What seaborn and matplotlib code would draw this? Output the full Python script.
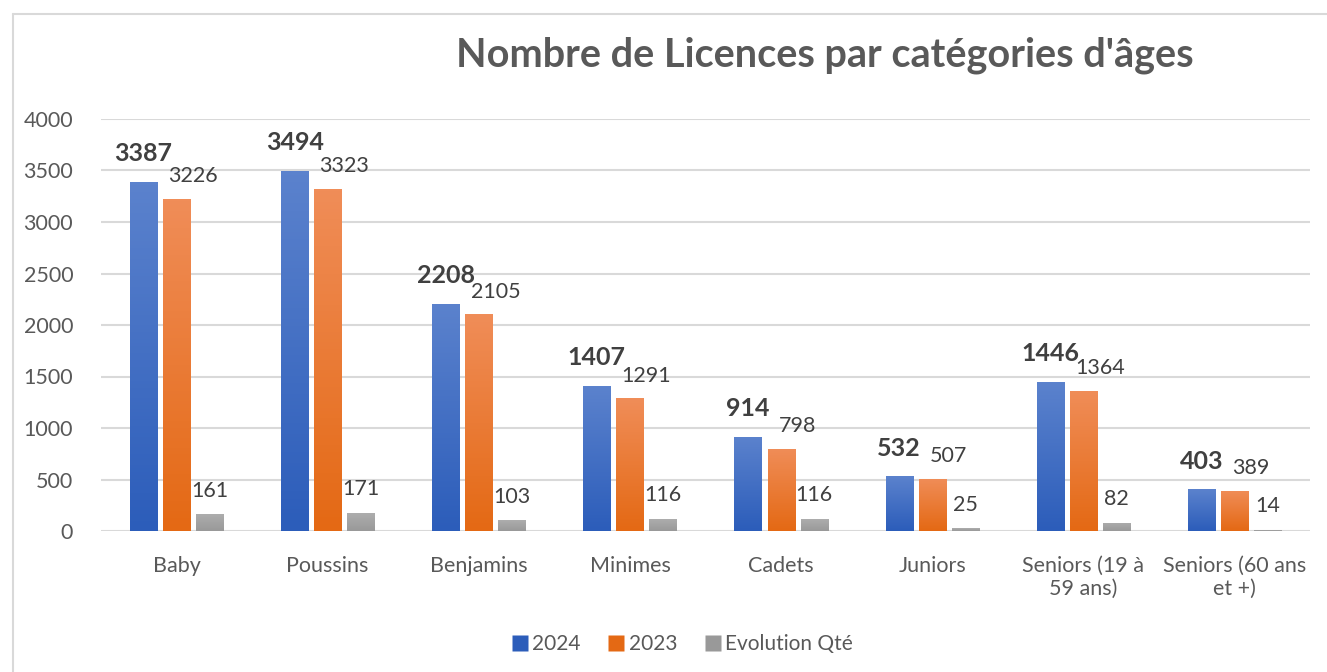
import pandas as pd
import numpy as np
import matplotlib.pyplot as plt
from matplotlib.colors import LinearSegmentedColormap
from matplotlib.lines import Line2D
import seaborn as sns

# Data
categories = ["Baby", "Poussins", "Benjamins", "Minimes", "Cadets", "Juniors",
              "Seniors (19 à\n59 ans)", "Seniors (60 ans\net +)"]
licences_2024 = [3387, 3494, 2208, 1407, 914, 532, 1446, 403]
licences_2023 = [3226, 3323, 2105, 1291, 798, 507, 1364, 389]
evolution_qte = [161, 171, 103, 116, 116, 25, 82, 14]
series_names = ["2024", "2023", "Evolution Qté"]

df = pd.DataFrame({
    "Catégorie": categories * 3,
    "Série": [series_names[0]] * 8 + [series_names[1]] * 8 + [series_names[2]] * 8,
    "Licences": licences_2024 + licences_2023 + evolution_qte,
})

# gradient (top, bottom) per series
grad = {
    "2024": ("#5B82CD", "#2C5DBA"),
    "2023": ("#F08D58", "#E46914"),
    "Evolution Qté": ("#ADADAD", "#999999"),
}
palette = {k: v[1] for k, v in grad.items()}

sns.set_style("white")
plt.rcParams["font.family"] = ["Lato", "DejaVu Sans"]

fig = plt.figure(figsize=(13.27, 6.72), dpi=100)
ax = fig.add_axes([101 / 1327, 1 - 531 / 672, (1310 - 101) / 1327, 412 / 672])

sns.barplot(data=df, x="Catégorie", y="Licences", hue="Série", palette=palette,
            width=0.656, gap=0.18, ax=ax, legend=False, saturation=1)

# gradient fill on every bar
for cont, name in zip(ax.containers, series_names):
    cmap = LinearSegmentedColormap.from_list(name, [grad[name][1], grad[name][0]])
    for patch in cont.patches:
        x0, y0 = patch.get_x(), patch.get_y()
        w, h = patch.get_width(), patch.get_height()
        if h <= 0:
            continue
        img = ax.imshow(np.linspace(0, 1, 100).reshape(-1, 1), cmap=cmap, origin="lower",
                        extent=[x0, x0 + w, y0, y0 + h], aspect="auto", zorder=patch.get_zorder())
        img.set_clip_path(patch)
        patch.set_facecolor("none")
        patch.set_edgecolor("none")

# data labels
for patch, v in zip(ax.containers[0].patches, licences_2024):
    ax.annotate(str(v), (patch.get_x() + patch.get_width() / 2, v), xytext=(0, 12),
                textcoords="offset points", ha="center", va="bottom",
                fontsize=18, fontweight="bold", color="#404040")
for patch, v in zip(ax.containers[1].patches, licences_2023):
    ax.annotate(str(v), (patch.get_x() + patch.get_width() / 2, v), xytext=(12, 9),
                textcoords="offset points", ha="center", va="bottom",
                fontsize=15.5, color="#404040")
for patch, v in zip(ax.containers[2].patches, evolution_qte):
    ax.annotate(str(v), (patch.get_x() + patch.get_width() / 2, v), xytext=(0, 10),
                textcoords="offset points", ha="center", va="bottom",
                fontsize=15.5, color="#404040")

ax.set_xlim(-0.5, 7.5)
ax.set_ylim(0, 4000)
ax.set_yticks(range(0, 4001, 500))
ax.yaxis.grid(True, color="#D9D9D9", linewidth=1.5)
ax.set_axisbelow(True)
sns.despine(ax=ax, left=True, bottom=True)
ax.tick_params(axis="both", length=0, labelsize=15.5, labelcolor="#595959")
ax.tick_params(axis="y", pad=20)
ax.tick_params(axis="x", pad=18)
ax.set_xlabel("")
ax.set_ylabel("")

fig.text(825 / 1327, 1 - 55 / 672, "Nombre de Licences par catégories d'âges",
         ha="center", va="center", fontsize=28.5, fontweight="bold", color="#595959")

handles = [Line2D([], [], marker="s", linestyle="none", markersize=11,
                  markerfacecolor=grad[n][1], markeredgecolor="none") for n in series_names]
fig.legend(handles, series_names, loc="center", bbox_to_anchor=(681 / 1327, 1 - 644 / 672),
           ncol=3, frameon=False, fontsize=15, labelcolor="#595959",
           handletextpad=0.1, columnspacing=1.2, handlelength=1.0)

# chart frame
fig.add_artist(Line2D([13 / 1327, 1.0], [1 - 14 / 672] * 2, color="#D9D9D9", lw=1.5))
fig.add_artist(Line2D([13 / 1327] * 2, [0, 1 - 14 / 672], color="#D9D9D9", lw=1.5))

fig.savefig("out.png", dpi=100)
